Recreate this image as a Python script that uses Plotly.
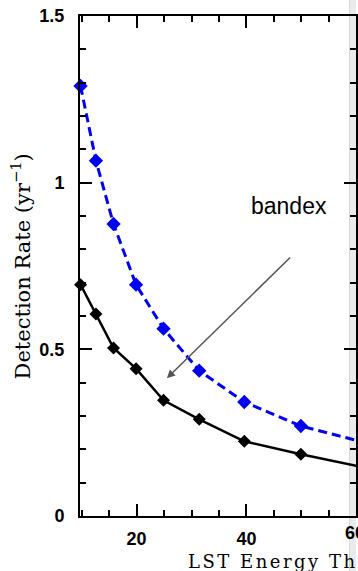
import plotly.graph_objects as go

# Data
energy_threshold = [9.8, 12.6, 15.8, 19.9, 24.9, 31.4, 39.6, 49.9, 63.0]
rate_black = [0.694, 0.606, 0.504, 0.442, 0.347, 0.290, 0.224, 0.185, 0.140]
rate_blue = [1.29, 1.066, 0.876, 0.694, 0.562, 0.436, 0.342, 0.270, 0.214]

x_ticks = [20, 40, 60]
y_ticks = [0, 0.5, 1, 1.5]
y_tick_text = ["0", "0.5", "1", "1.5"]

W, H = 358, 571
L, R, T, B = 80, 0, 16, 55
X0, X1 = 9.7, 59.93
Y0, Y1 = 0.0, 1.5

fig = go.Figure()

fig.add_trace(go.Scatter(
    x=energy_threshold, y=rate_blue, mode="lines+markers",
    line=dict(color="#0000f0", width=3, dash="9px,5px"),
    marker=dict(symbol="diamond", size=11, color="#0000f0"),
    cliponaxis=False, showlegend=False,
))
fig.add_trace(go.Scatter(
    x=energy_threshold, y=rate_black, mode="lines+markers",
    line=dict(color="black", width=2.5),
    marker=dict(symbol="diamond", size=10, color="black"),
    cliponaxis=False, showlegend=False,
))

tickfont = dict(family="Liberation Sans, Arial, sans-serif", size=18, color="black", weight="bold")

fig.update_xaxes(
    range=[X0, X1], tickmode="array", tickvals=x_ticks, ticktext=[str(v) for v in x_ticks],
    ticks="inside", ticklen=12, tickwidth=2, tickcolor="black",
    minor=dict(dtick=5, tick0=0, ticks="inside", ticklen=6, tickwidth=2, tickcolor="black"),
    showline=True, linewidth=2, linecolor="black", mirror="ticks",
    showgrid=False, zeroline=False, tickfont=tickfont, ticklabelstandoff=5,
)
fig.update_yaxes(
    range=[Y0, Y1], tickmode="array", tickvals=y_ticks, ticktext=y_tick_text,
    ticks="inside", ticklen=12, tickwidth=2, tickcolor="black",
    minor=dict(dtick=0.1, tick0=0, ticks="inside", ticklen=6, tickwidth=2, tickcolor="black"),
    showline=True, linewidth=2, linecolor="black", mirror="ticks",
    showgrid=False, zeroline=False, tickfont=tickfont, ticklabelstandoff=10,
)

def px_to_paper_x(px):
    return (px - L) / (W - L - R)

def px_to_paper_y(py):
    return (H - B - py) / (H - T - B)

serif = "DejaVu Serif, serif"

# Axis titles
fig.add_annotation(
    text="Detection Rate (yr<sup>−1</sup>)", textangle=-90,
    xref="paper", yref="paper", x=px_to_paper_x(21), y=px_to_paper_y(266),
    xanchor="center", yanchor="middle", showarrow=False,
    font=dict(family=serif, size=21, color="black"),
)
fig.add_annotation(
    text='<span style="letter-spacing:2.5px">LST Energy Threshold (GeV)</span>',
    xref="paper", yref="paper", x=px_to_paper_x(187), y=px_to_paper_y(561),
    xanchor="left", yanchor="middle", showarrow=False,
    font=dict(family=serif, size=18, color="black"),
)
# partly visible "60" tick label at the right edge
fig.add_annotation(
    text="60", xref="paper", yref="paper", x=px_to_paper_x(357), y=px_to_paper_y(533),
    xanchor="center", yanchor="middle", showarrow=False, font=tickfont,
)

# Arrow and label
def dx(px):
    return X0 + (px - L) * (X1 - X0) / (W - L - R)

def dy(py):
    return Y0 + (H - B - py) * (Y1 - Y0) / (H - T - B)

head = (167.5, 378.3)
tail = (292.3, 256.0)
fig.add_annotation(
    x=dx(head[0]), y=dy(head[1]), xref="x", yref="y", text="",
    showarrow=True, ax=tail[0] - head[0], ay=tail[1] - head[1],
    arrowhead=2, arrowsize=1.1, arrowwidth=1.5, arrowcolor="#555555", standoff=0,
)
fig.add_annotation(
    text="bandex", x=dx(291), y=dy(206), xref="x", yref="y",
    xanchor="center", yanchor="middle", showarrow=False,
    font=dict(family="Liberation Sans, Arial, sans-serif", size=23, color="black"),
)

# grey strip at right edge of the captured image
fig.add_shape(type="rect", xref="paper", yref="paper",
              x0=px_to_paper_x(351), x1=px_to_paper_x(352.5), y0=px_to_paper_y(H), y1=px_to_paper_y(0),
              fillcolor="#d6d6d6", line_width=0, layer="below")
fig.add_shape(type="rect", xref="paper", yref="paper",
              x0=px_to_paper_x(352.5), x1=px_to_paper_x(W), y0=px_to_paper_y(H), y1=px_to_paper_y(0),
              fillcolor="#ebebeb", line_width=0, layer="below")

fig.update_layout(
    width=W, height=H, autosize=False,
    margin=dict(l=L, r=R, t=T, b=B, pad=0),
    paper_bgcolor="white", plot_bgcolor="rgba(0,0,0,0)",
    showlegend=False,
)

fig.write_html("out.html")
